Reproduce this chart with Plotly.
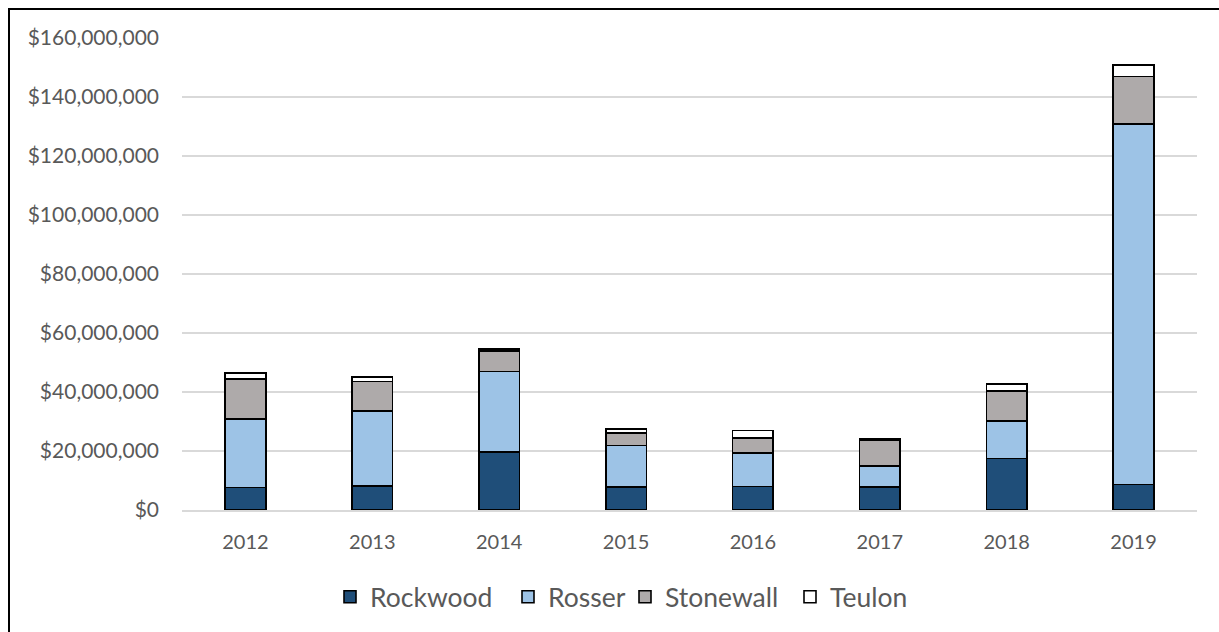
import plotly.graph_objects as go

years = ["2012", "2013", "2014", "2015", "2016", "2017", "2018", "2019"]

# Annual values (dollars) by municipality
rockwood = [7.6e6, 8.1e6, 19.6e6, 7.7e6, 8.0e6, 7.8e6, 17.4e6, 8.6e6]
rosser = [23.3e6, 25.5e6, 27.4e6, 14.1e6, 11.3e6, 7.2e6, 12.7e6, 122.2e6]
stonewall = [13.5e6, 9.9e6, 6.9e6, 4.4e6, 5.2e6, 8.5e6, 10.3e6, 16.2e6]
teulon = [2.1e6, 1.6e6, 0.7e6, 1.2e6, 2.5e6, 0.6e6, 2.3e6, 3.8e6]

y_ticks = [0, 20e6, 40e6, 60e6, 80e6, 100e6, 120e6, 140e6, 160e6]
y_tick_labels = ["$" + f"{int(v):,}" for v in y_ticks]

series = [
    ("Rockwood", rockwood, "#1F4E79", 133),
    ("Rosser", rosser, "#9DC3E6", 72),
    ("Stonewall", stonewall, "#AEAAAA", 120),
    ("Teulon", teulon, "#FFFFFF", 80),
]

FONT = "Lato, Calibri, Carlito, sans-serif"
TEXT = "#595959"

fig = go.Figure()
for name, vals, color, lw in series:
    fig.add_trace(go.Bar(
        x=years, y=vals, name=name,
        legendwidth=lw,
        marker=dict(color=color, line=dict(color="#000000", width=1.6)),
    ))

W, H = 1219, 632
ml, mr, mt, mb = 182, 22, 38, 122
ph = H - mt - mb
pw = W - ml - mr

def px_x(p):
    return (p - ml) / pw

def px_y(p):
    return (H - mb - p) / ph

fig.update_layout(
    width=W, height=H,
    margin=dict(l=ml, r=mr, t=mt, b=mb, autoexpand=False),
    barmode="stack",
    bargap=0.68,
    plot_bgcolor="#FFFFFF",
    paper_bgcolor="#FFFFFF",
    font=dict(family=FONT, color=TEXT, size=20),
    showlegend=True,
    legend=dict(
        orientation="h",
        x=px_x(330), xanchor="left",
        y=px_y(597), yanchor="middle",
        traceorder="normal",
        font=dict(family=FONT, size=26.5, color=TEXT),
        bgcolor="rgba(0,0,0,0)",
    ),
    xaxis=dict(
        showgrid=False,
        showline=True, linecolor="#D9D9D9", linewidth=1.5,
        ticks="", ticklabelstandoff=13,
        tickfont=dict(family=FONT, size=20, color=TEXT),
    ),
    yaxis=dict(
        range=[0, 160e6],
        tickmode="array",
        tickvals=y_ticks,
        ticktext=y_tick_labels,
        showgrid=True, gridcolor="#D9D9D9", gridwidth=1.5,
        zeroline=False, showline=False,
        ticks="", ticklabelstandoff=22,
        tickfont=dict(family=FONT, size=21, color=TEXT),
    ),
    shapes=[dict(
        type="rect", xref="paper", yref="paper",
        x0=px_x(9), x1=px_x(W + 20), y0=px_y(H + 20), y1=px_y(9),
        line=dict(color="#000000", width=2), fillcolor="rgba(0,0,0,0)",
        layer="above",
    )],
)

fig.write_html("out.html")
